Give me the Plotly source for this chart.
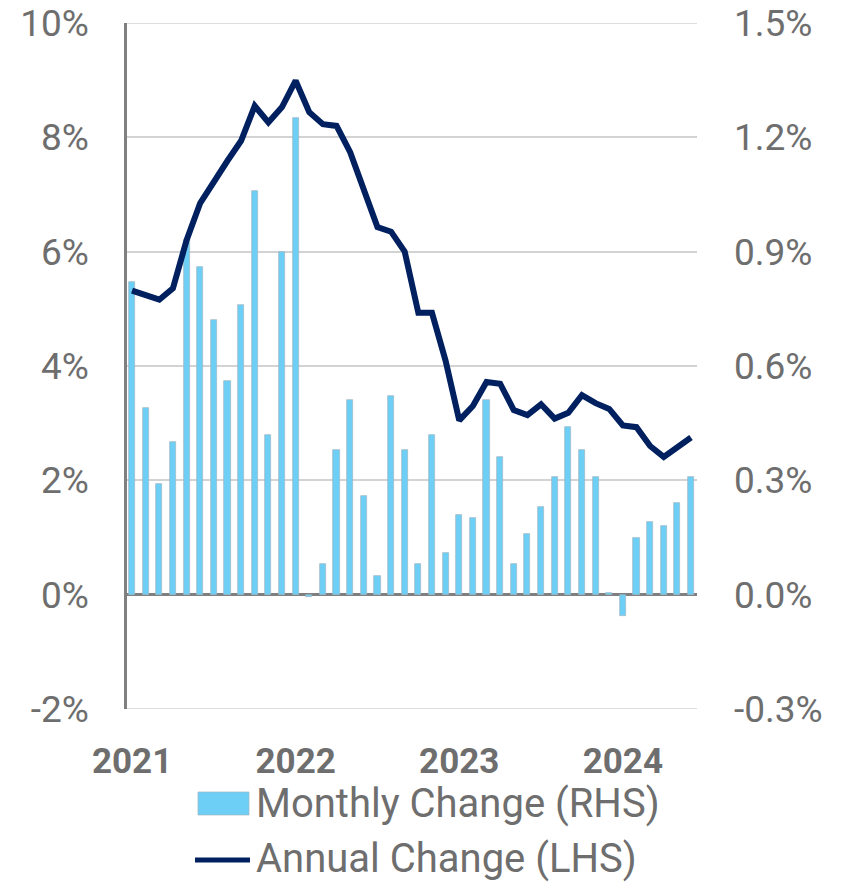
import plotly.graph_objects as go

months = [f"{y}-{m:02d}" for y in (2021, 2022, 2023, 2024) for m in range(1, 13)][:42]

monthly_change = [0.82, 0.49, 0.29, 0.40, 0.93, 0.86, 0.72, 0.56, 0.76, 1.06, 0.42, 0.90,
                  1.25, -0.005, 0.08, 0.38, 0.51, 0.26, 0.05, 0.52, 0.38, 0.08, 0.42, 0.11,
                  0.21, 0.20, 0.51, 0.36, 0.08, 0.16, 0.23, 0.31, 0.44, 0.38, 0.31, 0.004,
                  -0.057, 0.15, 0.19, 0.18, 0.24, 0.31]

annual_change = [5.32, 5.25, 5.16, 5.36, 6.20, 6.85, 7.24, 7.59, 7.94, 8.55, 8.26, 8.53,
                 8.99, 8.44, 8.23, 8.20, 7.74, 7.10, 6.43, 6.35, 6.00, 4.93, 4.93, 4.09,
                 3.05, 3.30, 3.72, 3.69, 3.23, 3.14, 3.33, 3.08, 3.18, 3.49, 3.35, 3.25,
                 2.96, 2.93, 2.60, 2.41, 2.59, 2.75]

year_ticks = ["2021-01", "2022-01", "2023-01", "2024-01"]
year_labels = ["2021", "2022", "2023", "2024"]

left_ticks = [-2, 0, 2, 4, 6, 8, 10]
left_labels = ["-2%", "0%", "2%", "4%", "6%", "8%", "10%"]
right_ticks = [-0.3, 0.0, 0.3, 0.6, 0.9, 1.2, 1.5]
right_labels = ["-0.3%", "0.0%", "0.3%", "0.6%", "0.9%", "1.2%", "1.5%"]

bar_name = "Monthly Change (RHS)"
line_name = "Annual Change (LHS)"

BAR_COLOR = "#6dcff6"
LINE_COLOR = "#002060"
TEXT = "#6e6e6e"
GRID = "#d3d3d3"
FONT = "Roboto"

fig = go.Figure()
fig.add_trace(go.Bar(x=months, y=monthly_change, name=bar_name, yaxis="y",
                     marker=dict(color=BAR_COLOR, line=dict(color="#9fb4bf", width=0.7)),
                     width=0.45, showlegend=False))
fig.add_trace(go.Scatter(x=months, y=annual_change, name=line_name, yaxis="y2",
                         mode="lines", line=dict(color=LINE_COLOR, width=6),
                         showlegend=False))

L, R, T, B = 127, 149, 23, 176
W, H = 846, 885
plot_w = W - L - R
plot_h = H - T - B

def px_x(px):
    return (px - L) / plot_w

def px_y(py):
    return (H - B - py) / plot_h

fig.update_layout(
    width=W, height=H,
    margin=dict(l=L, r=R, t=T, b=B, autoexpand=False),
    paper_bgcolor="white", plot_bgcolor="white",
    font=dict(family=FONT, color=TEXT, size=37),
    bargap=0,
    xaxis=dict(type="category", range=[-0.37, 41.44], automargin=False,
               tickmode="array", tickvals=year_ticks, ticktext=year_labels,
               tickfont=dict(family=FONT, size=35, color=TEXT, weight="bold"),
               showgrid=False, showline=False, ticks="", ticklabelstandoff=28),
    yaxis=dict(side="right", range=[right_ticks[0], right_ticks[-1]], automargin=False,
               tickmode="array", tickvals=right_ticks, ticktext=right_labels,
               showgrid=True, gridcolor=GRID, gridwidth=1.5,
               zeroline=True, zerolinecolor="#7f7f7f", zerolinewidth=2.5,
               showline=False, ticks="", ticklabelstandoff=36,
               tickfont=dict(family=FONT, size=37, color=TEXT)),
    yaxis2=dict(side="left", overlaying="y", range=[left_ticks[0], left_ticks[-1]],
                automargin=False,
                tickmode="array", tickvals=left_ticks, ticktext=left_labels,
                showgrid=False, zeroline=False,
                showline=True, linecolor="#808080", linewidth=2.5,
                ticks="", ticklabelstandoff=28,
                tickfont=dict(family=FONT, size=37, color=TEXT)),
)

# Edge gridlines (top and bottom) that plotly omits at the range ends
for yv in (right_ticks[0], right_ticks[-1]):
    fig.add_shape(type="line", xref="paper", yref="y", x0=0, x1=1, y0=yv, y1=yv,
                  layer="below", line=dict(color=GRID, width=1.5))

# Custom legend
fig.add_shape(type="rect", xref="paper", yref="paper",
              x0=px_x(198), x1=px_x(249), y0=px_y(815), y1=px_y(792),
              fillcolor=BAR_COLOR, line=dict(color="#9fb4bf", width=0.7))
fig.add_shape(type="line", xref="paper", yref="paper",
              x0=px_x(195), x1=px_x(250), y0=px_y(860), y1=px_y(860),
              line=dict(color=LINE_COLOR, width=5))
fig.add_annotation(text=bar_name, xref="paper", yref="paper", x=px_x(254), y=px_y(803),
                   xanchor="left", yanchor="middle", showarrow=False,
                   font=dict(family=FONT, size=40, color=TEXT))
fig.add_annotation(text=line_name, xref="paper", yref="paper", x=px_x(254), y=px_y(858),
                   xanchor="left", yanchor="middle", showarrow=False,
                   font=dict(family=FONT, size=40, color=TEXT))

fig.write_html("out.html", config={"displayModeBar": False},
               post_script="document.body.style.margin='0';document.body.style.overflow='hidden';")
